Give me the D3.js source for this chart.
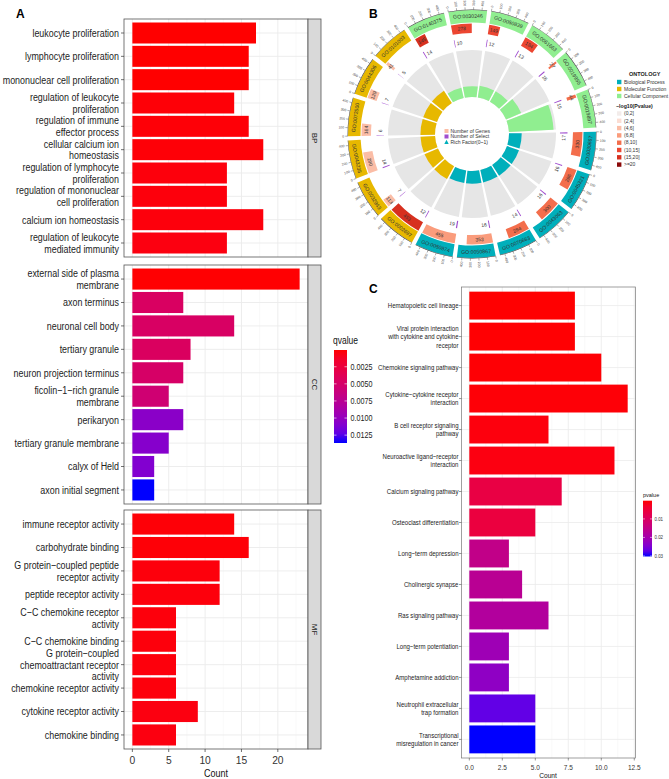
<!DOCTYPE html>
<html><head><meta charset="utf-8">
<script src="https://cdn.jsdelivr.net/npm/d3@7"></script>
<style>body{margin:0;background:#fff}svg{display:block}</style>
</head><body>
<script>
// ---------------- DATA ----------------
const stripLabels = ["BP", "CC", "MF"];
const bpTerms = ["leukocyte proliferation","lymphocyte proliferation","mononuclear cell proliferation","regulation of leukocyte\nproliferation","regulation of immune\neffector process","cellular calcium ion\nhomeostasis","regulation of lymphocyte\nproliferation","regulation of mononuclear\ncell proliferation","calcium ion homeostasis","regulation of leukocyte\nmediated immunity"];
const bpCounts = [17,16,16,14,16,18,13,13,18,13];
const bpQ = [0.00005,0.00006,0.00006,0.0002,0.0002,0.0002,0.0003,0.0003,0.0003,0.0004];
const ccTerms = ["external side of plasma\nmembrane","axon terminus","neuronal cell body","tertiary granule","neuron projection terminus","ficolin\u22121\u2212rich granule\nmembrane","perikaryon","tertiary granule membrane","calyx of Held","axon initial segment"];
const ccCounts = [23,7,14,8,7,5,7,5,3,3];
const ccQ = [0.0001,0.0045,0.0046,0.0044,0.0048,0.0055,0.0106,0.0108,0.0110,0.01365];
const mfTerms = ["immune receptor activity","carbohydrate binding","G protein\u2212coupled peptide\nreceptor activity","peptide receptor activity","C\u2212C chemokine receptor\nactivity","C\u2212C chemokine binding","G protein\u2212coupled\nchemoattractant receptor\nactivity","chemokine receptor activity","cytokine receptor activity","chemokine binding"];
const mfCounts = [14,16,12,12,6,6,6,6,9,6];
const mfQ = [0.0002,0.0002,0.0003,0.0003,0.0003,0.0003,0.0003,0.0003,0.0004,0.0004];
const countTicksA = [0,5,10,15,20];
const qLegendTicks = [0.0025,0.0050,0.0075,0.0100,0.0125];

const keggTerms = ["Hematopoietic cell lineage","Viral protein interaction\nwith cytokine and cytokine\nreceptor","Chemokine signaling pathway","Cytokine\u2212cytokine receptor\ninteraction","B cell receptor signaling\npathway","Neuroactive ligand\u2212receptor\ninteraction","Calcium signaling pathway","Osteoclast differentiation","Long\u2212term depression","Cholinergic synapse","Ras signaling pathway","Long\u2212term potentiation","Amphetamine addiction","Neutrophil extracellular\ntrap formation","Transcriptional\nmisregulation in cancer"];
const keggCounts = [8,8,10,12,6,11,7,5,3,4,6,3,3,5,5];
const keggP = [0.0002,0.0003,0.0004,0.0005,0.0008,0.001,0.0062,0.0056,0.0152,0.0167,0.018,0.021,0.023,0.0272,0.0303];
const countTicksC = [0,2.5,5,7.5,10,12.5];
const pLegendTicks = [0.01,0.02,0.03];

const goIds = ["GO:0140375","GO:0030246","GO:0050839","GO:0061663","GO:0019955","GO:0019897","GO:0030667","GO:0045321","GO:0043063","GO:0070663","GO:0050867","GO:0050874","GO:0002697","GO:0032943","GO:0043235","GO:0072500","GO:0044306","GO:0101003"];
const goOntology = ["CC","CC","CC","CC","CC","CC","BP","BP","BP","BP","BP","BP","MF","MF","MF","MF","MF","MF"];
const goGeneNum = [145,278,149,194,27,44,330,286,300,294,353,455,453,113,290,164,129,41];
const goPbin = [6,5,5,5,4,4,4,4,4,4,3,3,6,2,2,2,2,2];
const goSelect = [14,10,12,13,16,15,17,16,16,14,16,19,12,7,14,6,7,5];
const goRich = [0.22,0.23,0.25,0.25,0.35,0.95,0.27,0.27,0.27,0.27,0.27,0.27,0.31,0.31,0.31,0.31,0.31,0.31];
const geneTicks = [0,100,200,300,400];
const ontologyNames = ["Biological Process","Molecular Function","Cellular Component"];
const ontologyKeys = ["BP","MF","CC"];
const pbinLabels = ["(0,2]","(2,4]","(4,6]","(6,8]","(8,10]","(10,15]","(15,20]",">=20"];

// ---------------- SETUP ----------------
const W = 669, H = 779;
const FR = "'Liberation Sans',Arial,sans-serif";
const svg = d3.select("body").append("svg").attr("width", W).attr("height", H);
svg.append("rect").attr("width", W).attr("height", H).attr("fill", "#fff");
const defs = svg.append("defs");

function stext(g, x, y, str, size, anchor, color, sx) {
  return g.append("text").attr("transform", `translate(${x},${y}) scale(${sx},1)`)
    .attr("text-anchor", anchor).attr("font-size", size).attr("font-family", FR)
    .attr("fill", color).attr("dy", "0.36em").text(str);
}
function multiText(g, x, y, str, size, lh, anchor, color, sx) {
  const lines = str.split("\n");
  const t = g.append("text").attr("transform", `translate(${x},${y}) scale(${sx},1)`)
    .attr("font-size", size).attr("text-anchor", anchor).attr("font-family", FR).attr("fill", color);
  lines.forEach((l, i) => t.append("tspan").attr("x", 0)
    .attr("y", (i - (lines.length - 1) / 2) * lh).attr("dy", "0.36em").text(l));
  return t;
}

// ---------------- PANEL A ----------------
const gA = svg.append("g");
gA.append("text").attr("x", 16).attr("y", 18).attr("font-size", 12).attr("font-weight", "bold")
  .attr("font-family", FR).text("A");
const xA = d3.scaleLinear().domain([-1.15, 24.15]).range([124, 308]);
const qColor = d3.scaleLinear().domain([0.00005, 0.01365]).range(["red", "blue"])
  .interpolate(d3.interpolateLab).clamp(true);
const facets = [
  {terms: bpTerms, counts: bpCounts, q: bpQ, y0: 19, y1: 257},
  {terms: ccTerms, counts: ccCounts, q: ccQ, y0: 265, y1: 504},
  {terms: mfTerms, counts: mfCounts, q: mfQ, y0: 510, y1: 749}
];
facets.forEach((f, fi) => {
  const g = gA.append("g");
  const y = d3.scalePoint().domain(f.terms).range([f.y0, f.y1]).padding(0.6);
  const bh = y.step() * 0.9;
  g.append("rect").attr("x", 124).attr("y", f.y0).attr("width", 184).attr("height", f.y1 - f.y0).attr("fill", "#fff");
  d3.range(2.5, 24, 5).forEach(v => g.append("line").attr("x1", xA(v)).attr("x2", xA(v))
    .attr("y1", f.y0).attr("y2", f.y1).attr("stroke", "#F2F2F2").attr("stroke-width", 0.5));
  countTicksA.forEach(v => g.append("line").attr("x1", xA(v)).attr("x2", xA(v))
    .attr("y1", f.y0).attr("y2", f.y1).attr("stroke", "#EBEBEB").attr("stroke-width", 0.9));
  f.terms.forEach(t => g.append("line").attr("x1", 124).attr("x2", 308).attr("y1", y(t)).attr("y2", y(t))
    .attr("stroke", "#EBEBEB").attr("stroke-width", 0.9));
  g.selectAll("rect.bar").data(f.terms).join("rect").attr("class", "bar")
    .attr("x", xA(0)).attr("y", t => y(t) - bh / 2)
    .attr("width", (t, i) => xA(f.counts[i]) - xA(0)).attr("height", bh)
    .attr("fill", (t, i) => qColor(f.q[i]));
  g.append("rect").attr("x", 124).attr("y", f.y0).attr("width", 184).attr("height", f.y1 - f.y0)
    .attr("fill", "none").attr("stroke", "#555").attr("stroke-width", 0.8);
  g.append("rect").attr("x", 308).attr("y", f.y0).attr("width", 13).attr("height", f.y1 - f.y0)
    .attr("fill", "#D9D9D9").attr("stroke", "#555").attr("stroke-width", 0.8);
  g.append("text").attr("transform", `translate(${314.5},${(f.y0 + f.y1) / 2}) rotate(90)`)
    .attr("text-anchor", "middle").attr("dy", "0.35em").attr("font-size", 8).attr("font-family", FR)
    .attr("fill", "#1A1A1A").text(stripLabels[fi]);
  f.terms.forEach(t => {
    g.append("line").attr("x1", 121).attr("x2", 124).attr("y1", y(t)).attr("y2", y(t)).attr("stroke", "#333").attr("stroke-width", 0.7);
    multiText(g, 119, y(t), t, 11, 11.7, "end", "#222", 0.81);
  });
  if (fi === 2) {
    countTicksA.forEach(v => {
      g.append("line").attr("x1", xA(v)).attr("x2", xA(v)).attr("y1", f.y1).attr("y2", f.y1 + 3).attr("stroke", "#333").attr("stroke-width", 0.7);
      stext(g, xA(v), 760, v, 10.8, "middle", "#333", 0.95);
    });
    stext(g, 216, 773, "Count", 11, "middle", "#111", 0.82);
  }
});
(function () {
  const g = gA.append("g");
  stext(g, 333, 340, "qvalue", 10, "start", "#111", 0.85);
  const lg = defs.append("linearGradient").attr("id", "gq").attr("x1", 0).attr("y1", 0).attr("x2", 0).attr("y2", 1);
  d3.range(0, 1.001, 0.1).forEach(t => lg.append("stop").attr("offset", t)
    .attr("stop-color", d3.interpolateLab("red", "blue")(t)));
  const ly = d3.scaleLinear().domain(qColor.domain()).range([350, 443]);
  g.append("rect").attr("x", 334).attr("y", 350).attr("width", 13).attr("height", 93).attr("fill", "url(#gq)");
  qLegendTicks.forEach(v => {
    g.append("line").attr("x1", 334).attr("x2", 336.5).attr("y1", ly(v)).attr("y2", ly(v)).attr("stroke", "#fff").attr("stroke-width", 0.6);
    g.append("line").attr("x1", 344.5).attr("x2", 347).attr("y1", ly(v)).attr("y2", ly(v)).attr("stroke", "#fff").attr("stroke-width", 0.6);
    stext(g, 350.5, ly(v), v.toFixed(4), 9, "start", "#222", 0.8);
  });
})();

// ---------------- PANEL C ----------------
(function () {
  const g = svg.append("g");
  g.append("text").attr("x", 369).attr("y", 293).attr("font-size", 12).attr("font-weight", "bold")
    .attr("font-family", FR).text("C");
  const x = d3.scaleLinear().domain([-0.6, 12.6]).range([461.4, 635.6]);
  const y = d3.scalePoint().domain(keggTerms).range([287, 758]).padding(0.6);
  const bh = y.step() * 0.9;
  const pColor = d3.scaleLinear().domain([0.00016, 0.0303]).range(["red", "blue"]).interpolate(d3.interpolateLab).clamp(true);
  d3.range(1.25, 12.6, 2.5).forEach(v => g.append("line").attr("x1", x(v)).attr("x2", x(v))
    .attr("y1", 287).attr("y2", 758).attr("stroke", "#F2F2F2").attr("stroke-width", 0.5));
  countTicksC.forEach(v => g.append("line").attr("x1", x(v)).attr("x2", x(v))
    .attr("y1", 287).attr("y2", 758).attr("stroke", "#EBEBEB").attr("stroke-width", 0.8));
  keggTerms.forEach(t => g.append("line").attr("x1", 461.4).attr("x2", 635.6).attr("y1", y(t)).attr("y2", y(t))
    .attr("stroke", "#EBEBEB").attr("stroke-width", 0.8));
  g.selectAll("rect.bar").data(keggTerms).join("rect").attr("class", "bar")
    .attr("x", x(0)).attr("y", t => y(t) - bh / 2)
    .attr("width", (t, i) => x(keggCounts[i]) - x(0)).attr("height", bh)
    .attr("fill", (t, i) => pColor(keggP[i]));
  g.append("rect").attr("x", 461.4).attr("y", 287).attr("width", 174.2).attr("height", 471)
    .attr("fill", "none").attr("stroke", "#777").attr("stroke-width", 0.7);
  keggTerms.forEach(t => {
    g.append("line").attr("x1", 459).attr("x2", 461.4).attr("y1", y(t)).attr("y2", y(t)).attr("stroke", "#333").attr("stroke-width", 0.5);
    multiText(g, 458.5, y(t), t, 7.4, 8.3, "end", "#222", 0.82);
  });
  countTicksC.forEach(v => {
    g.append("line").attr("x1", x(v)).attr("x2", x(v)).attr("y1", 758).attr("y2", 760.5).attr("stroke", "#333").attr("stroke-width", 0.5);
    stext(g, x(v), 767, v.toFixed(1), 7, "middle", "#333", 0.93);
  });
  stext(g, 548, 775, "Count", 7.2, "middle", "#111", 0.92);
  const lg = defs.append("linearGradient").attr("id", "gp").attr("x1", 0).attr("y1", 0).attr("x2", 0).attr("y2", 1);
  d3.range(0, 1.001, 0.1).forEach(t => lg.append("stop").attr("offset", t)
    .attr("stop-color", d3.interpolateLab("red", "blue")(t)));
  stext(g, 643, 494.5, "pvalue", 5.8, "start", "#111", 0.95);
  const ly = d3.scaleLinear().domain(pColor.domain()).range([500.7, 556.5]);
  g.append("rect").attr("x", 643).attr("y", 500.7).attr("width", 9).attr("height", 55.8).attr("fill", "url(#gp)");
  pLegendTicks.forEach(v => {
    g.append("line").attr("x1", 643).attr("x2", 645).attr("y1", ly(v)).attr("y2", ly(v)).attr("stroke", "#fff").attr("stroke-width", 0.5);
    g.append("line").attr("x1", 650).attr("x2", 652).attr("y1", ly(v)).attr("y2", ly(v)).attr("stroke", "#fff").attr("stroke-width", 0.5);
    stext(g, 654.5, ly(v), v.toFixed(2), 4.6, "start", "#333", 0.95);
  });
})();

// ---------------- PANEL B ----------------
(function () {
  const g = svg.append("g");
  g.append("text").attr("x", 369).attr("y", 18).attr("font-size", 12).attr("font-weight", "bold")
    .attr("font-family", FR).text("B");
  const cx = 472, cy = 134;
  const catColor = {BP: "#00AFBB", MF: "#E7B800", CC: "#90EE90"};
  const pbinColors = ["#F3ECEA", "#FBDDD3", "#FBBDA6", "#FA9C7C", "#F36E4C", "#EC4631", "#D7301F", "#8B0A0A"];
  const n = goIds.length, stepDeg = 360 / n, gapDeg = 2, startDeg = -32, secMax = 460;
  const rad = d => d * Math.PI / 180;
  const secScale = i => d3.scaleLinear().domain([0, secMax])
    .range([rad(startDeg + i * stepDeg + gapDeg / 2), rad(startDeg + (i + 1) * stepDeg - gapDeg / 2)]);
  const arc = d3.arc();
  const G = g.append("g").attr("transform", `translate(${cx},${cy})`);
  const pol = (r, a) => [r * Math.sin(a), -r * Math.cos(a)];
  function tang(r, a, txt, size, color) {
    const [x, y] = pol(r, a);
    let deg = ((a * 180 / Math.PI) % 360 + 360) % 360;
    let rot = (deg > 90 && deg < 270) ? deg - 180 : deg;
    G.append("text").attr("transform", `translate(${x},${y}) rotate(${rot})`).attr("text-anchor", "middle")
      .attr("dy", "0.35em").attr("font-size", size).attr("font-family", FR).attr("fill", color).text(txt);
  }
  function radial(r, a, txt, size, color) {
    const [x, y] = pol(r, a);
    let deg = ((a * 180 / Math.PI) % 360 + 360) % 360;
    const left = deg > 180;
    G.append("text").attr("transform", `translate(${x},${y}) rotate(${left ? deg + 90 : deg - 90})`)
      .attr("text-anchor", left ? "end" : "start").attr("dy", "0.35em").attr("font-size", size)
      .attr("font-family", FR).attr("fill", color).text(txt);
  }
  goIds.forEach((id, i) => {
    const s = secScale(i);
    const a0 = s(0), a1 = s(secMax);
    // outer ontology / ID ring
    G.append("path").attr("d", arc({innerRadius: 111.5, outerRadius: 124, startAngle: a0, endAngle: a1}))
      .attr("fill", catColor[goOntology[i]]);
    tang(117.8, (a0 + a1) / 2, id, 5.2, "#333");
    // axis with ticks
    G.append("path").attr("d", arc({innerRadius: 124, outerRadius: 124.45, startAngle: a0, endAngle: a1})).attr("fill", "#333");
    geneTicks.forEach(v => {
      const a = s(v);
      const [x1, y1] = pol(124.4, a), [x2, y2] = pol(126.8, a);
      G.append("line").attr("x1", x1).attr("y1", y1).attr("x2", x2).attr("y2", y2).attr("stroke", "#333").attr("stroke-width", 0.4);
      radial(128, a, v, 3.4, "#444");
    });
    // number of genes
    const ag = s(goGeneNum[i]);
    G.append("path").attr("d", arc({innerRadius: 101, outerRadius: 110.5, startAngle: a0, endAngle: ag}))
      .attr("fill", pbinColors[goPbin[i]]);
    tang(105.8, (a0 + ag) / 2, goGeneNum[i], 5, "#333");
    // number of select
    const as = s(goSelect[i]);
    G.append("path").attr("d", arc({innerRadius: 88, outerRadius: 95.5, startAngle: a0, endAngle: as}))
      .attr("fill", "#A04ECF");
    tang(91.8, as + rad(2.8), goSelect[i], 5, "#333");
    // rich factor track
    G.append("path").attr("d", arc({innerRadius: 37, outerRadius: 84, startAngle: a0, endAngle: a1})).attr("fill", "#E6E6E6");
    G.append("path").attr("d", arc({innerRadius: 37, outerRadius: 37 + goRich[i] * 47, startAngle: a0, endAngle: a1}))
      .attr("fill", catColor[goOntology[i]]);
  });
  const cl = [["Number of Genes", "#FBBDA6", "sq"], ["Number of Select", "#A04ECF", "sq"], ["Rich Factor(0~1)", "#00AFBB", "tri"]];
  cl.forEach((d, i) => {
    const yy = -3 + i * 5.5;
    if (d[2] === "sq") G.append("rect").attr("x", -27.5).attr("y", yy - 2).attr("width", 4).attr("height", 4).attr("fill", d[1]);
    else G.append("path").attr("d", `M${-25.5},${yy - 2.2}L${-23.3},${yy + 2}L${-27.7},${yy + 2}Z`).attr("fill", d[1]);
    G.append("text").attr("x", -21.5).attr("y", yy).attr("dy", "0.35em").attr("font-size", 5).attr("font-family", FR).attr("fill", "#333").text(d[0]);
  });
  const L = g.append("g");
  L.append("text").attr("x", 629).attr("y", 76).attr("font-size", 5.5).attr("font-weight", "bold").attr("font-family", FR).attr("fill", "#222").text("ONTOLOGY");
  ontologyNames.forEach((nm, i) => {
    const yy = 82 + i * 7;
    L.append("rect").attr("x", 617).attr("y", yy - 2.2).attr("width", 4.4).attr("height", 4.4).attr("fill", catColor[ontologyKeys[i]]);
    L.append("text").attr("x", 624).attr("y", yy).attr("dy", "0.35em").attr("font-size", 5).attr("font-family", FR).attr("fill", "#333").text(nm);
  });
  L.append("text").attr("x", 616).attr("y", 108).attr("font-size", 5.2).attr("font-weight", "bold").attr("font-family", FR).attr("fill", "#222").text("\u2212log10(Pvalue)");
  pbinLabels.forEach((nm, i) => {
    const yy = 113.5 + i * 7.3;
    L.append("rect").attr("x", 617).attr("y", yy - 2.2).attr("width", 4.4).attr("height", 4.4).attr("fill", pbinColors[i]);
    L.append("text").attr("x", 624).attr("y", yy).attr("dy", "0.35em").attr("font-size", 5).attr("font-family", FR).attr("fill", "#333").text(nm);
  });
})();
</script>
</body></html>
